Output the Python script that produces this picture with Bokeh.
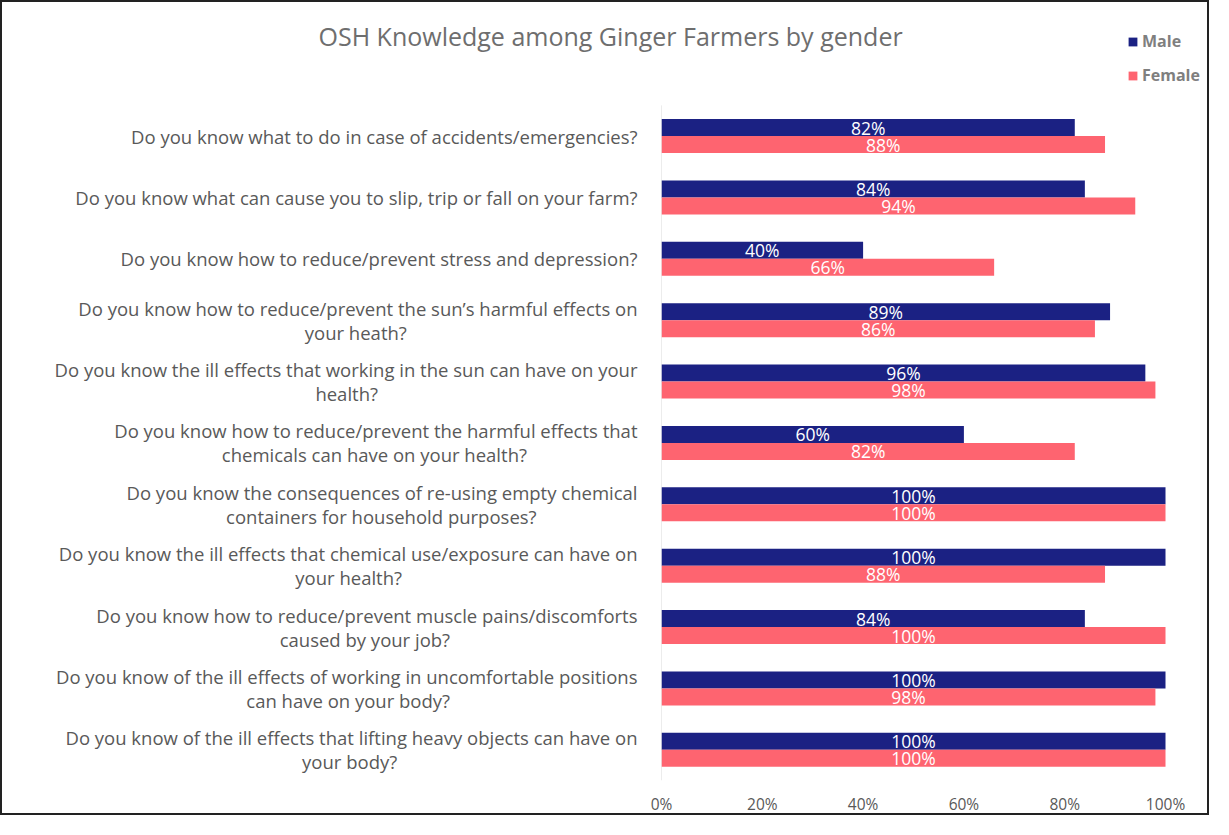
from bokeh.plotting import figure
from bokeh.models import ColumnDataSource, Range1d, FixedTicker, PrintfTickFormatter, Legend, LegendItem, Title
from bokeh.core.properties import value
from bokeh.embed import file_html
from bokeh.resources import INLINE

questions = [
    "Do you know what to do in case of accidents/emergencies?",
    "Do you know what can cause you to slip, trip or fall on your farm?",
    "Do you know how to reduce/prevent stress and depression?",
    "Do you know how to reduce/prevent the sun\u2019s harmful effects on\nyour heath?",
    "Do you know the ill effects that working in the sun can have on your\nhealth?",
    "Do you know how to reduce/prevent the harmful effects that\nchemicals can have on your health?",
    "Do you know the consequences of re-using empty chemical\ncontainers for household purposes?",
    "Do you know the ill effects that chemical use/exposure can have on\nyour health?",
    "Do you know how to reduce/prevent muscle pains/discomforts\ncaused by your job?",
    "Do you know of the ill effects of working in uncomfortable positions\ncan have on your body?",
    "Do you know of the ill effects that lifting heavy objects can have on\nyour body?",
]
male = [82, 84, 40, 89, 96, 60, 100, 100, 84, 100, 100]
female = [88, 94, 66, 86, 98, 82, 100, 88, 100, 98, 100]
x_ticks = [0, 20, 40, 60, 80, 100]

MALE_C = "#1B2183"
FEMALE_C = "#FE6470"
TXT = "#595959"
FONT = "Open Sans"

# approximate Open Sans advance widths (em), used only to centre the wrapped label lines
EM = {" ": 0.26, "a": 0.556, "b": 0.613, "c": 0.476, "d": 0.613, "e": 0.561, "f": 0.339,
      "g": 0.548, "h": 0.614, "i": 0.253, "j": 0.253, "k": 0.525, "l": 0.253, "m": 0.93,
      "n": 0.614, "o": 0.604, "p": 0.613, "q": 0.613, "r": 0.408, "s": 0.477, "t": 0.353,
      "u": 0.614, "v": 0.501, "w": 0.778, "x": 0.524, "y": 0.502, "z": 0.463, "D": 0.729,
      "?": 0.43, "/": 0.37, "\u2019": 0.22, "-": 0.32, ",": 0.245, ".": 0.26}
NBSP_EM = 0.26


def text_w(s):
    return sum(EM.get(c, 0.55) for c in s)


def centre_lines(q):
    lines = q.split("\n")
    w = max(text_w(l) for l in lines)
    return "\n".join(l + "\u00a0" * round((w - text_w(l)) / 2 / NBSP_EM) for l in lines)


n = len(questions)
ypos = [n - i - 0.5 for i in range(n)]
off = 0.138
bh = 0.277

# canvas geometry (pixels); frame extends upward/rightward so the legend sits inside it
W, H = 1209, 815
B_LEFT, B_RIGHT, B_TOP, B_BOTTOM = 659, 0, 22, 36
FRAME_PX_W = W - B_LEFT - B_RIGHT
FRAME_PX_H = H - B_TOP - B_BOTTOM
BAR_PX_W = 504.0   # 0..100 %
BAR_PX_H = 676.0   # the 11 question bands

src = ColumnDataSource(dict(
    ym=[y + off for y in ypos],
    yf=[y - off for y in ypos],
    male=male,
    female=female,
    mx=[v / 2 for v in male],
    fx=[v / 2 for v in female],
    ml=[f"{v}%" for v in male],
    fl=[f"{v}%" for v in female],
))

p = figure(width=W, height=H, output_backend="svg", toolbar_location=None,
           x_range=Range1d(0, 100 * FRAME_PX_W / BAR_PX_W),
           y_range=Range1d(0, n * FRAME_PX_H / BAR_PX_H),
           min_border_left=B_LEFT, min_border_right=B_RIGHT,
           min_border_top=B_TOP, min_border_bottom=B_BOTTOM)
p.styles = {"border": "2px solid #222222"}
p.outline_line_color = None
p.background_fill_color = "white"
p.border_fill_color = "white"
p.xgrid.visible = False
p.ygrid.visible = False

# value axis base line spanning the question bands
p.segment(x0=[0], y0=[0], x1=[0], y1=[n], line_color="#D9D9D9", line_width=1)

rm = p.hbar(y="ym", right="male", left=0, height=bh, source=src, fill_color=MALE_C, line_color=None)
rf = p.hbar(y="yf", right="female", left=0, height=bh, source=src, fill_color=FEMALE_C, line_color=None)

p.text(x="mx", y="ym", text="ml", source=src, text_color="white", text_font=value(FONT),
       text_font_size="17.5px", text_align="center", text_baseline="middle")
p.text(x="fx", y="yf", text="fl", source=src, text_color="white", text_font=value(FONT),
       text_font_size="17.5px", text_align="center", text_baseline="middle")

# y axis
p.yaxis.ticker = FixedTicker(ticks=ypos)
p.yaxis.major_label_overrides = {y: centre_lines(q) for y, q in zip(ypos, questions)}
p.yaxis.major_label_text_font = FONT
p.yaxis.major_label_text_font_size = "18.5px"
p.yaxis.major_label_text_line_height = 0.96
p.yaxis.major_label_text_color = TXT
p.yaxis.major_tick_line_color = None
p.yaxis.minor_tick_line_color = None
p.yaxis.axis_line_color = None
p.yaxis.major_label_standoff = 18

# x axis
p.xaxis.ticker = FixedTicker(ticks=x_ticks)
p.xaxis.formatter = PrintfTickFormatter(format="%d%%")
p.xaxis.major_label_text_font = FONT
p.xaxis.major_label_text_font_size = "15.5px"
p.xaxis.major_label_text_color = TXT
p.xaxis.major_tick_line_color = None
p.xaxis.minor_tick_line_color = None
p.xaxis.axis_line_color = None
p.xaxis.major_label_standoff = 6

legend = Legend(items=[LegendItem(label="Male", renderers=[rm]),
                       LegendItem(label="Female", renderers=[rf])],
                location=(466, 694), orientation="vertical",
                padding=0, margin=0, spacing=12, label_standoff=4,
                glyph_width=11, glyph_height=11, label_height=20,
                label_text_font=FONT, label_text_font_size="16px",
                label_text_font_style="bold", label_text_color="#7F7F7F",
                border_line_color=None, background_fill_alpha=0)
p.add_layout(legend, "center")

p.add_layout(Title(text="OSH Knowledge among Ginger Farmers by gender", align="left", offset=-343,
                   text_font=FONT, text_font_size="25px", text_font_style="normal",
                   text_color="#6E6E6E", standoff=-56), "above")

open("out.html", "w").write(file_html(p, INLINE))
